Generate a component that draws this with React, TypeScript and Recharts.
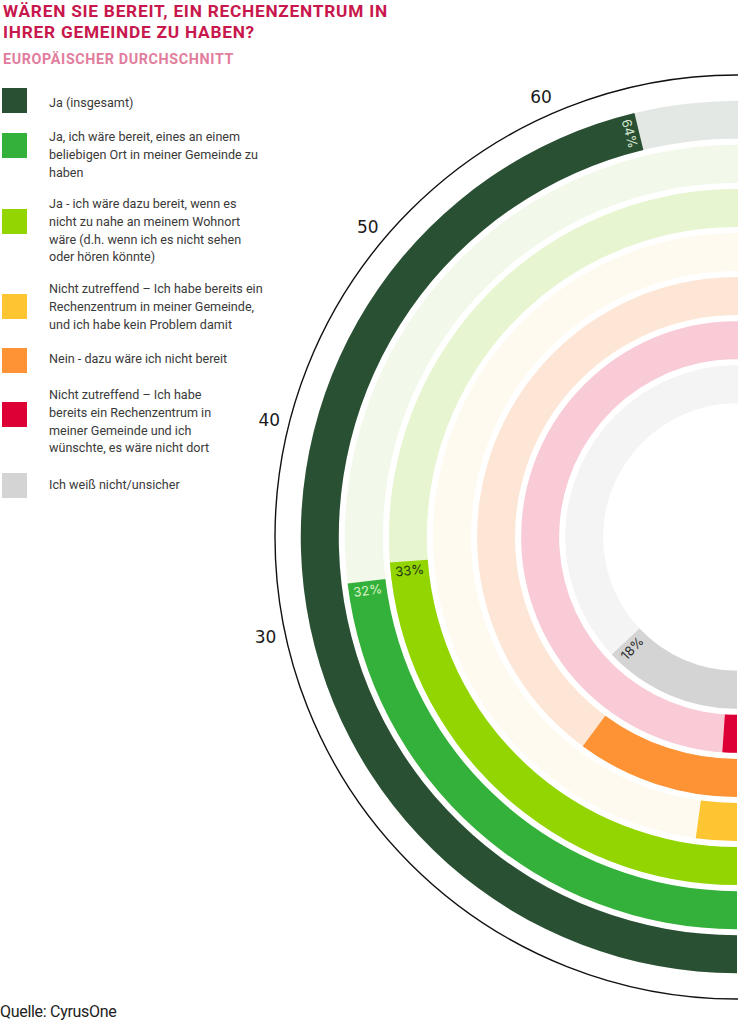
import React from "react";
import { RadialBarChart, RadialBar, PolarAngleAxis, PolarRadiusAxis, PolarGrid, Sector } from "recharts";

// legend order = outermost ring first
const categories = [
  "Ja (insgesamt)",
  "Ja, ich wäre bereit, eines an einem\nbeliebigen Ort in meiner Gemeinde zu\nhaben",
  "Ja - ich wäre dazu bereit, wenn es\nnicht zu nahe an meinem Wohnort\nwäre (d.h. wenn ich es nicht sehen\noder hören könnte)",
  "Nicht zutreffend – Ich habe bereits ein\nRechenzentrum in meiner Gemeinde,\nund ich habe kein Problem damit",
  "Nein - dazu wäre ich nicht bereit",
  "Nicht zutreffend – Ich habe\nbereits ein Rechenzentrum in\nmeiner Gemeinde und ich\nwünschte, es wäre nicht dort",
  "Ich weiß nicht/unsicher",
];
const values = [64, 32, 33, 3, 14, 1.5, 18];
const valueLabels = ["64%", "32%", "33%", "", "", "", "18%"];
const barColors = ["#2a5034", "#34b13a", "#93d500", "#fdc532", "#fd9334", "#dc0036", "#d3d4d3"];
const trackColors = ["#e4e8e4", "#f2f8ea", "#e7f5d0", "#fffaef", "#fde6d5", "#f8cbd7", "#f4f4f4"];
const labelColors = ["#d5e6cf", "#d9f3c9", "#1d3311", "", "", "", "#2b2b2b"];
const angleTicks = [30, 40, 50, 60];

const W = 738;
const H = 1024;
const CX = 737;
const CY = 537;
const START_ANGLE = -90;
const END_ANGLE = -350;
const RAD = Math.PI / 180;

// legend layout (square top, first text line centre)
const legendSquareTop = [88, 133, 209, 294, 348, 402, 473];
const legendTextMid = [102.7, 137.3, 204, 289.3, 359.3, 395, 485];
const LINE_H = 17.7;

const chartData = categories
  .map((name, i) => ({
    name,
    value: values[i],
    label: valueLabels[i],
    color: barColors[i],
    track: trackColors[i],
    labelColor: labelColors[i],
  }))
  .slice()
  .reverse();

function polar(cx: number, cy: number, r: number, a: number) {
  return { x: cx + Math.cos(-a * RAD) * r, y: cy + Math.sin(-a * RAD) * r };
}

function BarShape(props: any) {
  const { cx, cy, innerRadius, outerRadius, startAngle, endAngle } = props;
  const p = props.payload ?? chartData[props.index];
  const rMid = (innerRadius + outerRadius) / 2;
  const dir = endAngle < startAngle ? -1 : 1;
  const back = 9 / rMid / RAD;
  const a = endAngle - dir * back;
  const pos = polar(cx, cy, rMid, a);
  const rot = 180 - a;
  return (
    <g>
      <Sector
        cx={cx}
        cy={cy}
        innerRadius={innerRadius}
        outerRadius={outerRadius}
        startAngle={START_ANGLE}
        endAngle={END_ANGLE}
        fill={p.track}
      />
      <Sector
        cx={cx}
        cy={cy}
        innerRadius={innerRadius}
        outerRadius={outerRadius}
        startAngle={startAngle}
        endAngle={endAngle}
        fill={p.color}
      />
      {p.label ? (
        <text
          x={pos.x}
          y={pos.y}
          transform={`rotate(${rot} ${pos.x} ${pos.y})`}
          textAnchor="middle"
          dominantBaseline="central"
          fontFamily="Inter, sans-serif"
          fontSize={13}
          fill={p.labelColor}
        >
          {p.label}
        </text>
      ) : null}
    </g>
  );
}

function AngleTick(props: any) {
  const { x, y, payload } = props;
  const dx = x - CX;
  const dy = y - CY;
  const d = Math.hypot(dx, dy) || 1;
  const tx = CX + (dx / d) * 482;
  const ty = CY + (dy / d) * 482;
  return (
    <text
      x={tx}
      y={ty}
      textAnchor="middle"
      dominantBaseline="central"
      fontFamily="DejaVu Sans, sans-serif"
      fontSize={17}
      fill="#1a1a1a"
    >
      {payload.value}
    </text>
  );
}

export default function App() {
  return (
    <div
      style={{
        position: "absolute",
        left: 0,
        top: 0,
        width: W,
        height: H,
        overflow: "hidden",
        background: "#fff",
        fontFamily: "Roboto, sans-serif",
      }}
    >
      <RadialBarChart
        width={W}
        height={H}
        data={chartData}
        cx={CX}
        cy={CY}
        innerRadius={131}
        outerRadius={439.5}
        startAngle={START_ANGLE}
        endAngle={END_ANGLE}
        barCategoryGap={2.8}
        margin={{ top: 0, right: 0, bottom: 0, left: 0 }}
      >
        <PolarGrid
          gridType="circle"
          polarRadius={[462]}
          polarAngles={[]}
          radialLines={false}
          stroke="#111"
          strokeWidth={1.4}
        />
        <PolarAngleAxis
          type="number"
          domain={[0, 100]}
          ticks={angleTicks}
          tick={<AngleTick />}
          axisLine={false}
          tickLine={false}
        />
        <PolarRadiusAxis type="category" dataKey="name" tick={false} axisLine={false} />
        <RadialBar dataKey="value" shape={BarShape} isAnimationActive={false} />
      </RadialBarChart>

      <div
        style={{
          position: "absolute",
          left: 3,
          top: 1,
          color: "#c8174c",
          fontWeight: 700,
          fontSize: 17.3,
          lineHeight: "20.5px",
          letterSpacing: 0.75,
        }}
      >
        WÄREN SIE BEREIT, EIN RECHENZENTRUM IN
        <br />
        IHRER GEMEINDE ZU HABEN?
      </div>
      <div
        style={{
          position: "absolute",
          left: 3,
          top: 51,
          color: "#e27d9d",
          fontWeight: 700,
          fontSize: 14.3,
          letterSpacing: 0.65,
        }}
      >
        EUROPÄISCHER DURCHSCHNITT
      </div>

      {categories.map((c, i) => (
        <React.Fragment key={i}>
          <div
            style={{
              position: "absolute",
              left: 2,
              top: legendSquareTop[i],
              width: 25,
              height: 25,
              background: barColors[i],
            }}
          />
          <div
            style={{
              position: "absolute",
              left: 49,
              top: legendTextMid[i] - LINE_H / 2,
              fontSize: 12.6,
              lineHeight: `${LINE_H}px`,
              color: "#3a3a3a",
              whiteSpace: "pre",
            }}
          >
            {c}
          </div>
        </React.Fragment>
      ))}

      <div
        style={{
          position: "absolute",
          left: 0,
          top: 1002,
          fontSize: 16,
          letterSpacing: -0.3,
          color: "#222",
        }}
      >
        Quelle: CyrusOne
      </div>
    </div>
  );
}
